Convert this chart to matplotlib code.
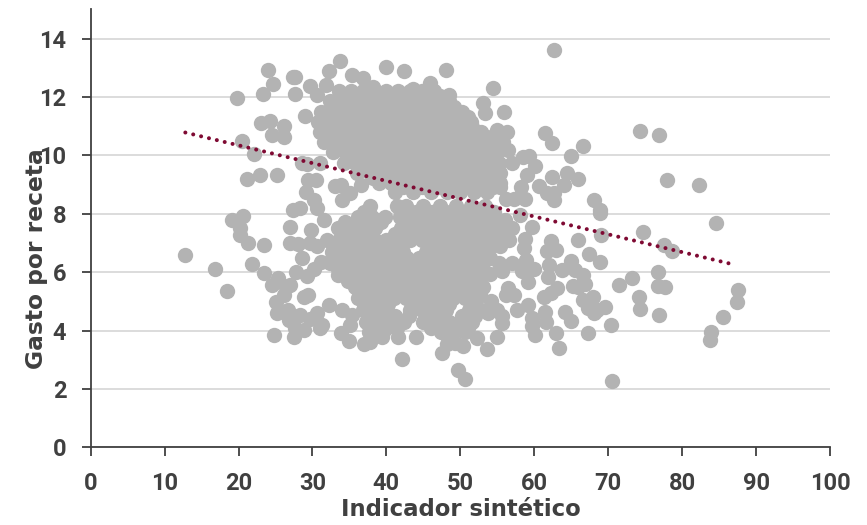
import numpy as np
import matplotlib
matplotlib.use("Agg")
import matplotlib.pyplot as plt

plt.rcParams['font.family'] = ['Roboto', 'DejaVu Sans']

x_label = "Indicador sintético"
y_label = "Gasto por receta"
x_ticks = list(range(0, 101, 10))
y_ticks = list(range(0, 15, 2))
trend_x = [12.8, 86.8]
trend_y = [10.78, 6.27]

outliers_left = [
 (12.8,6.6),(16.8,6.1),(18.4,5.35),(19.1,7.78),(20.65,7.92),(20.2,7.5),(20.2,7.27),(21.3,6.98),(23.5,6.93),
 (21.8,6.28),(23.4,5.96),(24.5,5.56),(25.4,5.8),(27,5.56),(25.1,4.98),(25.2,4.6),(24.8,3.86),(27.5,3.79),
 (28.8,4.02),(26.8,4.36),(28.3,4.53),(26.7,4.7),(28.8,5.14),(29.4,5.22),(30.6,4.6),(31,4.08),(31.3,4.19),
 (32.2,4.87),(34,4.7),(35.3,4.53),(35.1,4.19),(33.8,3.91),(35,3.65),(37,3.54),(37.8,3.62),(39.4,3.79),
 (41.6,3.78),(44,3.78),(42.1,3.02),(47.5,3.24),(48.2,3.54),(49.3,3.57),(50.4,3.47),(49.7,2.65),(50.6,2.34),
 (26.2,5.2),(27.6,4.1),(29.6,4.4),(26.4,5.5),(27.8,6.0),(28.6,6.5),(28.0,6.95),(29.6,7.0),(26.9,7.0),
 (29.2,5.85),(30.2,6.1),(31.2,6.35),(30.6,6.9),
]
outliers_upper_left = [
 (23.95,12.91),(24.6,12.43),(23.3,12.1),(19.8,11.96),(27.65,12.67),(27.3,12.67),(27.65,12.1),(29.7,12.36),
 (33.7,13.23),(32.3,12.88),(31.8,12.4),(30.6,12.07),(39.9,13.03),(42.4,12.88),(48.1,12.92),(45.9,12.47),
 (48.5,12.07),(43.6,12.26),(35.4,12.75),(36.8,12.64),(38.2,12.35),(23,11.12),(24.3,11.18),(26.2,11.0),
 (24.5,10.7),(26.1,10.62),(29,11.35),(20.4,10.5),(22.1,10.03),(21.1,9.19),(22.95,9.32),(25.2,9.31),
 (28.6,9.72),(29.2,9.7),(31,9.73),(29.4,9.15),(30.5,9.15),(33,8.96),(29.1,8.74),(30.2,8.47),(34,8.47),
 (35.1,8.7),(27.4,8.13),(28.3,8.19),(27,7.56),(29.8,7.44),(30.6,8.2),(31.5,7.78),(36.5,9.0),(33.8,9.0),
]
outliers_right = [
 (62.7,13.6),(54.4,12.31),(53.1,11.78),(53.3,11.44),(55.9,11.48),(50.4,11.19),(51.6,10.98),(53.6,10.64),
 (54.9,10.87),(56.3,10.81),(55.8,10.47),(56.5,10.18),(61.4,10.75),(62.4,10.43),(66.6,10.31),(65,9.97),
 (74.3,10.83),(76.9,10.68),(77.9,9.16),(82.3,9.0),(84.6,7.67),(59.3,9.97),(58.5,9.93),(60.1,9.63),(59,9.33),
 (57,9.73),(58.2,8.92),(58.8,8.5),(57.2,8.5),(60.7,8.96),(62.4,9.27),(61.7,8.7),(62.7,8.47),(62.7,8.7),
 (64,9.0),(64.4,9.38),(65.9,9.19),(68.1,8.47),(68.9,8.13),(68.9,8.02),(59.7,7.56),(58.1,7.96),(56,7.78),
 (54.7,7.73),(56.2,8.5),(55.4,8.9),(74.7,7.38),(77.5,6.93),(78.6,6.73),(69,7.28),(65.9,7.1),(67.4,6.61),
 (68.9,6.36),(73.2,5.79),(71.4,5.55),(76.8,6.0),(76.8,5.52),(77.7,5.5),(74.1,5.14),(74.3,4.75),(76.9,4.53),
 (87.5,5.38),(87.4,4.98),(85.5,4.46),(83.9,3.94),(83.8,3.67),(70.4,4.19),(67.3,3.9),(70.5,2.26),(63.3,3.39),
 (62.9,3.9),(60.1,3.85),(54.9,3.78),(53.6,3.38),(52.2,3.73),
 (69.5,4.79),(68.5,4.7),(68.1,4.6),(67.3,4.77),(66.6,5.05),(68,5.14),(64.9,4.34),(64.2,4.65),(61.4,4.65),
 (61.6,4.3),(59.7,4.42),(59.7,4.15),(59.1,4.87),(57.6,4.7),(57.2,5.22),(56.5,5.44),(56.2,5.2),(55.6,4.25),
 (55.6,4.5),(54.9,4.7),(53.8,4.6),(54.2,5.0),(63.1,5.44),(62.2,5.27),(61.3,5.16),(59.1,5.67),(59.9,6.1),
 (58.9,6.41),(58.3,6.05),(57,6.3),(55.2,6.3),(55.6,6.05),(54,5.93),(61.9,5.82),(62,6.24),(63.7,6.07),
 (64.9,6.38),(65.5,6.07),(66.6,5.9),(66.9,5.59),(65.3,5.52),(65.9,5.48),(61.7,6.72),(62.9,6.76),(62.2,7.07),
 (58.7,7.12),(58.6,6.81),(55.7,7.18),
]

upper_row_y = [12.2, 11.85, 11.5, 11.15, 10.8, 10.45, 10.1, 9.75, 9.4, 9.05, 8.75]
upper_row_x = [
 [33.6,35.2,36.8,38.4,40,41.6,43.2,44.8,46.4],
 [32.4,34,35.6,37.2,38.8,40.4,42,43.6,45.2,46.8,48.4],
 [31.2,32.8,34.4,36,37.6,39.2,40.8,42.4,44,45.6,47.2,48.8,50.2],
 [30.8,32.4,34,35.6,37.2,38.8,40.4,42,43.6,45.2,46.8,48.4,50,51.4],
 [31,32.6,34.2,35.8,37.4,39,40.6,42.2,43.8,45.4,47,48.6,50.2,51.8,52.8],
 [31.6,33.2,34.8,36.4,38,39.6,41.2,42.8,44.4,46,47.6,49.2,50.8,52.4,54.4],
 [32.8,34.4,36,37.6,39.2,40.8,42.4,44,45.6,47.2,48.8,50.4,52,53.6,55],
 [34.2,35.8,37.4,39,40.6,42.2,43.8,45.4,47,48.6,50.2,51.8,53.4,55.2],
 [36,37.8,39.4,41,42.6,44.2,45.8,47.4,49,50.6,52.2,53.8,55.4],
 [39,40.6,42.4,44,45.6,47.2,48.8,50.4,52,53.6,55.4],
 [41.2,43.6,46,48.2,50,51.8,53.6],
]
upper_fill_y = [12.02, 11.67, 11.32, 10.97, 10.62, 10.27, 9.92, 9.57, 9.22, 8.9]
upper_fill_x = [
 [34.4,36,37.6,39.2,40.8,42.4,44,45.6,47.2],
 [33.2,34.8,36.4,38,39.6,41.2,42.8,44.4,46,47.6,49.2],
 [32,33.6,35.2,36.8,38.4,40,41.6,43.2,44.8,46.4,48,49.6,51],
 [32,33.6,35.2,36.8,38.4,40,41.6,43.2,44.8,46.4,48,49.6,51.2],
 [32.4,34,35.6,37.2,38.8,40.4,42,43.6,45.2,46.8,48.4,50,51.6,53],
 [33.6,35.2,36.8,38.4,40,41.6,43.2,44.8,46.4,48,49.6,51.2,52.8,54.2],
 [35,36.6,38.2,39.8,41.4,43,44.6,46.2,47.8,49.4,51,52.6,54.2],
 [37,38.6,40.2,41.8,43.4,45,46.6,48.2,49.8,51.4,53,54.6],
 [38.2,39.8,41.4,43,44.8,46.4,48,49.6,51.2,52.8,54.6],
 [42.2,44.8,47,49,50.8,52.6,54.4],
]
lower_row_y = [8.25, 7.9, 7.5, 7.1, 6.7, 6.3, 5.9, 5.5, 5.1, 4.7, 4.3, 3.95]
lower_row_x = [
 [37.8,41.4,42.6,45,47.2,49.4,51.4,53.4],
 [36.2,38,39.8,41.8,43.4,45.2,47,48.8,50.6,52.4,54],
 [33.4,35,36.6,38.4,42,43.2,45,46.8,48.4,50.2,52,53.6,57],
 [32,33.6,35.2,36.8,38.4,40,41.6,43.2,44.8,46.4,48,49.6,51.2,52.8,54.4,56.6],
 [32.6,34.2,35.8,37.4,39,40.6,42.2,45.4,47,48.6,50.2,51.8,53.4],
 [32.4,34,35.6,37.2,38.8,40.4,42,43.6,45.2,46.8,48.4,50,51.6,53],
 [33.4,35.6,37.2,38.8,40.4,42,43.6,45.2,46.8,48.4,50,51.6],
 [35.8,37.4,39,40.6,42.2,43.8,45.4,47,48.6,50.2,51.8,53],
 [36.2,37.8,39.4,41,42.6,44.2,45.8,47.4,49,50.6,52.2],
 [36.8,38.4,40,43.2,44.8,46.4,48,51.2,52.8],
 [37.2,39,40.6,42.4,45,46.6,48.4,50,51.6],
 [37.6,39.6,47.4,49,50.6],
]
lower_fill_y = [8.05, 7.7, 7.3, 6.9, 6.5, 6.1, 5.7, 5.3, 4.9, 4.5, 4.1]
lower_fill_x = [
 [37,44,46.2,48,50,52,54.6],
 [34.4,36,37.6,39.2,42.6,44.2,45.8,47.6,49.4,51.2,53,55],
 [34.4,36,37.6,41.2,42.8,44.4,46,47.6,49.2,50.8,52.4,54,55.6],
 [33,34.6,36.2,37.8,39.4,41,46.2,47.8,49.4,51,52.6,54.2,55.4],
 [33.2,34.8,36.4,38,39.6,41.2,42.8,44.4,46,47.6,49.2,50.8,52.4,54],
 [33.4,35,36.6,38.2,39.8,41.4,43,44.6,46.2,47.8,49.4,51,52.6],
 [34.8,36.4,38,39.6,41.2,42.8,44.4,46,47.6,49.2,50.8,52.4],
 [36.6,38.2,39.8,41.4,43,44.6,46.2,47.8,49.4,51,52.6],
 [37,38.6,40.2,43.6,45.2,46.8,48.4,51.6],
 [38,39.6,41.2,43,45.8,47.4,50.2,52],
 [38.2,40,41.4,46,47.8,49.4,51],
]

pairs = np.array(outliers_left + outliers_upper_left + outliers_right)
xs = list(pairs[:, 0])
ys = list(pairs[:, 1])
all_y = upper_row_y + upper_fill_y + lower_row_y + lower_fill_y
all_x = upper_row_x + upper_fill_x + lower_row_x + lower_fill_x
for yv, row in zip(all_y, all_x):
    xs += row
    ys += [yv] * len(row)

W, H = 867, 525
fig = plt.figure(figsize=(W / 100, H / 100), dpi=100)
ax = fig.add_axes([90.7 / W, (H - 447.3) / H, (830 - 90.7) / W, (447.3 - 9.3) / H])

ax.set_xlim(0, 100)
ax.set_ylim(0, 15)
ax.set_axisbelow(True)
ax.yaxis.grid(True, color='#D9D9D9', linewidth=1.3)
ax.xaxis.grid(False)

ax.scatter(xs, ys, s=122, color='#B3B3B3', linewidths=0, zorder=3)
ax.plot(trend_x, trend_y, color='#7F0A33', linewidth=2.9, dashes=(0.01, 2.0),
        dash_capstyle='round', zorder=4)

for s in ('top', 'right'):
    ax.spines[s].set_visible(False)
for s in ('left', 'bottom'):
    ax.spines[s].set_color('#404040')
    ax.spines[s].set_linewidth(1.3)

ax.set_xticks(x_ticks)
ax.set_yticks(y_ticks)
ax.tick_params(axis='both', direction='out', length=6.5, width=1.3, color='#404040',
               labelcolor='#404040', labelsize=17)
ax.tick_params(axis='x', pad=11)
ax.tick_params(axis='y', pad=11)
for lab in ax.get_xticklabels() + ax.get_yticklabels():
    lab.set_fontweight('bold')

fig.text(461 / W, 1 - 510 / H, x_label, ha='center', va='center', fontsize=16.4,
         fontweight='bold', color='#404040', family=['DejaVu Sans'])
fig.text(37 / W, 1 - 259 / H, y_label, ha='center', va='center', rotation=90, fontsize=16.8,
         fontweight='bold', color='#404040', family=['DejaVu Sans'], zorder=5)

fig.savefig('out.png', dpi=100)
